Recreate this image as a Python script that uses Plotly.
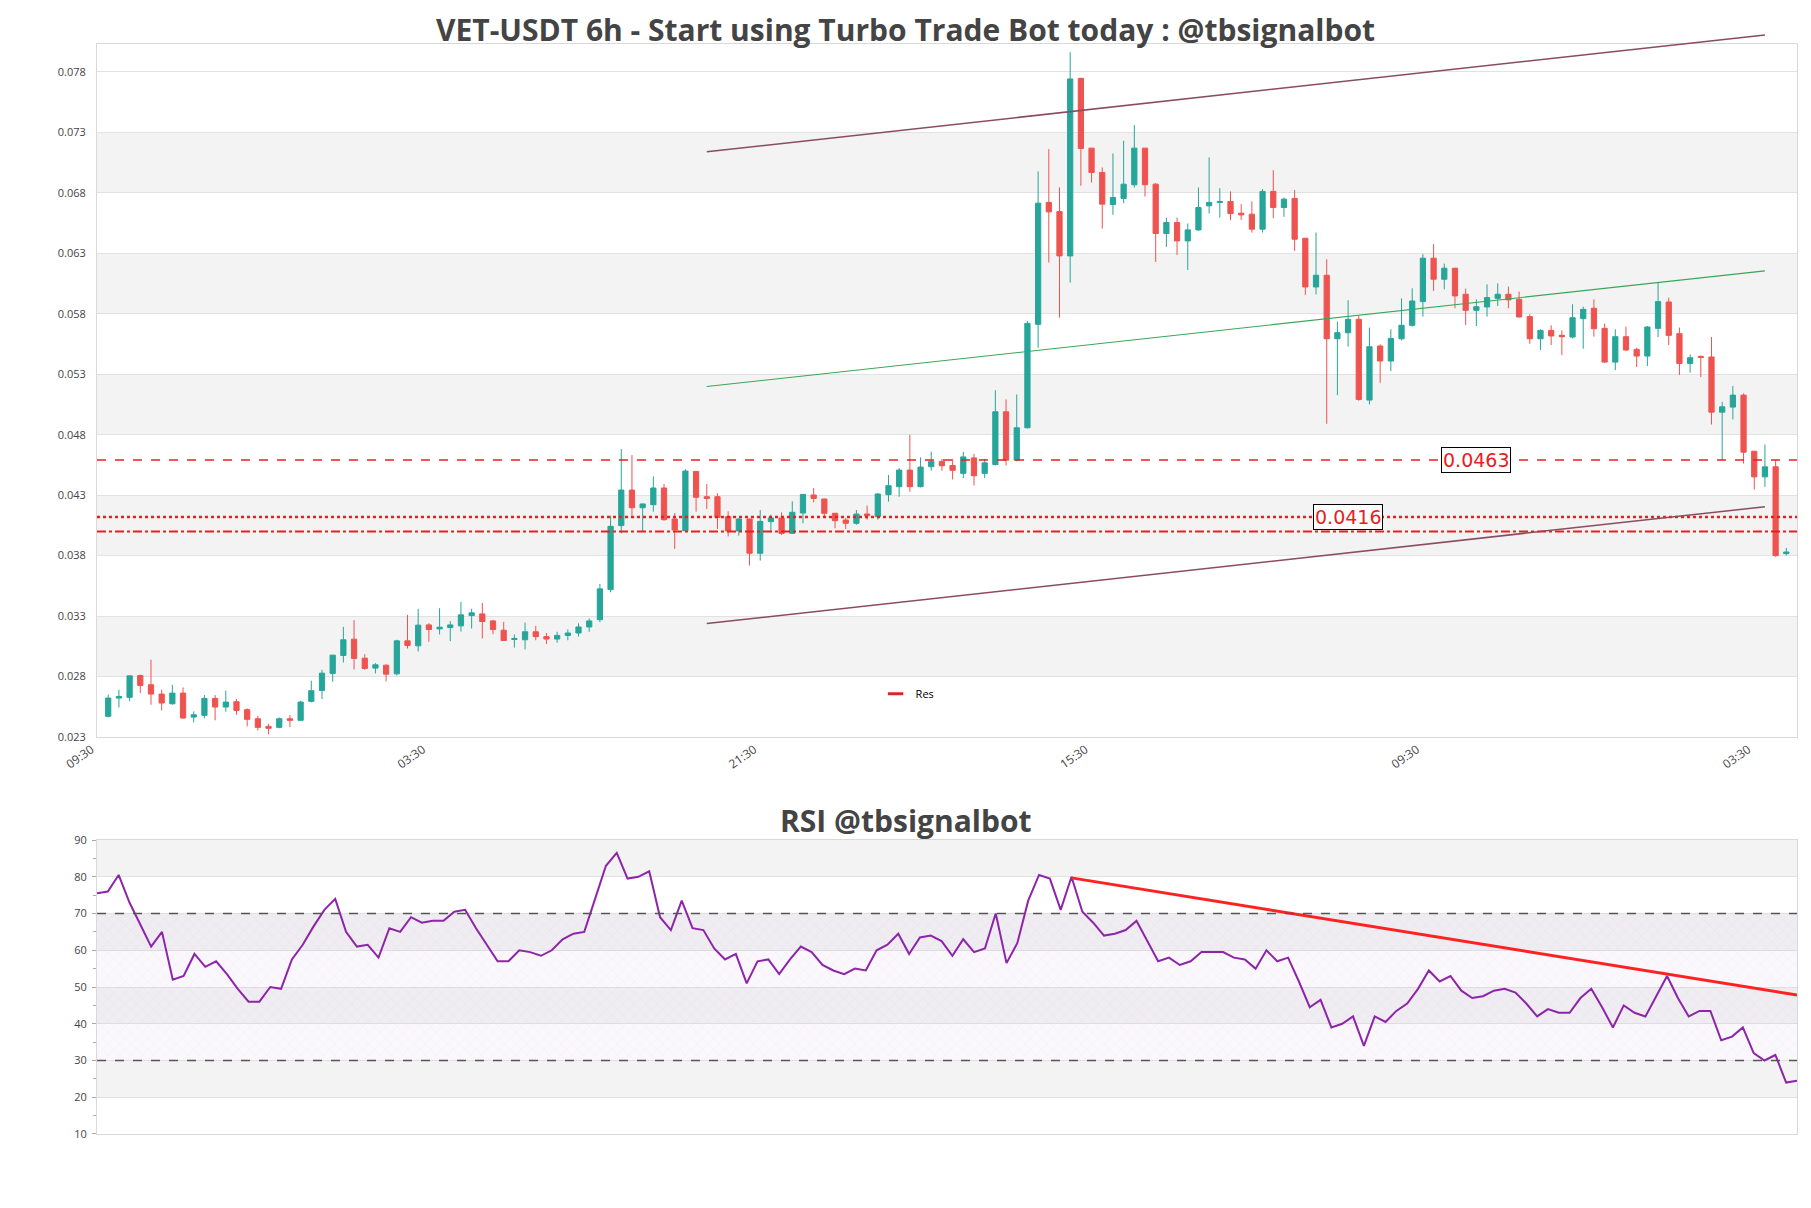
import pandas as pd
import plotly.graph_objects as go

# VET-USDT 6h candles
start = "2024-03-01 15:30"

open_ = [
    0.02511, 0.02662, 0.02668, 0.02849, 0.02772, 0.02695, 0.02615, 0.02703, 0.02505, 0.02519,
    0.02659, 0.02588, 0.02632, 0.02566, 0.02491, 0.02428, 0.02420, 0.02491, 0.02478, 0.02635,
    0.02725, 0.02866, 0.03014, 0.03149, 0.02992, 0.02910, 0.02934, 0.02863, 0.03135, 0.03094,
    0.03267, 0.03234, 0.03245, 0.03259, 0.03344, 0.03358, 0.03300, 0.03223, 0.03146, 0.03144,
    0.03210, 0.03170, 0.03150, 0.03180, 0.03200, 0.03250, 0.03310, 0.03559, 0.04088, 0.04382,
    0.04236, 0.04261, 0.04399, 0.04143, 0.04046, 0.04536, 0.04327, 0.04327, 0.04162, 0.04044,
    0.04143, 0.03859, 0.04121, 0.04151, 0.04024, 0.04192, 0.04341, 0.04308, 0.04190, 0.04134,
    0.04107, 0.04184, 0.04162, 0.04344, 0.04410, 0.04547, 0.04410, 0.04575, 0.04619, 0.04585,
    0.04520, 0.04648, 0.04520, 0.04593, 0.05029, 0.04629, 0.04897, 0.05752, 0.06760, 0.06685,
    0.06318, 0.07786, 0.07209, 0.07008, 0.06743, 0.06793, 0.06906, 0.07209, 0.06911, 0.06503,
    0.06594, 0.06442, 0.06533, 0.06732, 0.06760, 0.06768, 0.06671, 0.06663, 0.06539, 0.06851,
    0.06718, 0.06793, 0.06464, 0.06061, 0.06158, 0.05633, 0.05683, 0.05794, 0.05126, 0.05573,
    0.05449, 0.05633, 0.05744, 0.05940, 0.06299, 0.06125, 0.06216, 0.06001, 0.05868, 0.05896,
    0.05967, 0.06001, 0.05959, 0.05816, 0.05633, 0.05702, 0.05661, 0.05647, 0.05799, 0.05885,
    0.05719, 0.05440, 0.05650, 0.05545, 0.05490, 0.05719, 0.05937, 0.05675, 0.05429, 0.05487,
    0.05482, 0.05026, 0.05068, 0.05167, 0.04703, 0.04491, 0.04574, 0.03856,
]
high = [
    0.02690, 0.02731, 0.02848, 0.02855, 0.02979, 0.02731, 0.02772, 0.02750, 0.02552, 0.02687,
    0.02687, 0.02723, 0.02654, 0.02577, 0.02516, 0.02450, 0.02502, 0.02522, 0.02640, 0.02805,
    0.02896, 0.03019, 0.03251, 0.03306, 0.03025, 0.02951, 0.02940, 0.03144, 0.03350, 0.03400,
    0.03281, 0.03405, 0.03298, 0.03457, 0.03400, 0.03449, 0.03309, 0.03292, 0.03188, 0.03287,
    0.03260, 0.03200, 0.03210, 0.03230, 0.03280, 0.03320, 0.03606, 0.04170, 0.04721, 0.04671,
    0.04270, 0.04495, 0.04432, 0.04192, 0.04555, 0.04540, 0.04432, 0.04355, 0.04206, 0.04148,
    0.04145, 0.04217, 0.04178, 0.04198, 0.04289, 0.04348, 0.04399, 0.04310, 0.04192, 0.04151,
    0.04217, 0.04253, 0.04357, 0.04506, 0.04564, 0.04839, 0.04652, 0.04699, 0.04638, 0.04640,
    0.04698, 0.04681, 0.04640, 0.05208, 0.05131, 0.05172, 0.05780, 0.07016, 0.07201, 0.06884,
    0.08002, 0.07790, 0.07210, 0.07049, 0.07165, 0.07270, 0.07400, 0.07210, 0.06920, 0.06635,
    0.06635, 0.06586, 0.06884, 0.07132, 0.06878, 0.06851, 0.06746, 0.06768, 0.06870, 0.07027,
    0.06801, 0.06862, 0.06466, 0.06511, 0.06290, 0.05774, 0.05951, 0.05821, 0.05725, 0.05587,
    0.05711, 0.05967, 0.06050, 0.06332, 0.06415, 0.06254, 0.06220, 0.06047, 0.05959, 0.06083,
    0.06092, 0.06064, 0.06023, 0.05835, 0.05711, 0.05744, 0.05702, 0.05918, 0.05898, 0.05959,
    0.05758, 0.05711, 0.05733, 0.05559, 0.05738, 0.06097, 0.05973, 0.05725, 0.05504, 0.05495,
    0.05647, 0.05112, 0.05242, 0.05181, 0.04705, 0.04759, 0.04629, 0.03903,
]
low = [
    0.02502, 0.02585, 0.02635, 0.02703, 0.02607, 0.02560, 0.02607, 0.02491, 0.02461, 0.02494,
    0.02478, 0.02549, 0.02524, 0.02428, 0.02395, 0.02362, 0.02412, 0.02423, 0.02476, 0.02626,
    0.02654, 0.02797, 0.02956, 0.02899, 0.02896, 0.02866, 0.02800, 0.02849, 0.03072, 0.03047,
    0.03127, 0.03188, 0.03133, 0.03212, 0.03237, 0.03155, 0.03190, 0.03135, 0.03080, 0.03064,
    0.03140, 0.03110, 0.03120, 0.03140, 0.03170, 0.03210, 0.03290, 0.03537, 0.04024, 0.04170,
    0.04041, 0.04203, 0.04129, 0.03895, 0.04041, 0.04203, 0.04225, 0.04060, 0.03999, 0.04005,
    0.03757, 0.03799, 0.04032, 0.04011, 0.04019, 0.04107, 0.04280, 0.04151, 0.04066, 0.04060,
    0.04095, 0.04137, 0.04137, 0.04286, 0.04327, 0.04368, 0.04404, 0.04542, 0.04542, 0.04470,
    0.04480, 0.04420, 0.04480, 0.04585, 0.04585, 0.04620, 0.04891, 0.05559, 0.06263, 0.05807,
    0.06097, 0.06898, 0.06925, 0.06544, 0.06657, 0.06754, 0.06884, 0.06809, 0.06268, 0.06392,
    0.06326, 0.06202, 0.06525, 0.06668, 0.06635, 0.06613, 0.06616, 0.06511, 0.06511, 0.06630,
    0.06641, 0.06359, 0.05995, 0.06000, 0.04930, 0.05167, 0.05567, 0.05120, 0.05090, 0.05269,
    0.05366, 0.05620, 0.05733, 0.05816, 0.06028, 0.06042, 0.05885, 0.05747, 0.05738, 0.05816,
    0.05904, 0.05885, 0.05810, 0.05592, 0.05540, 0.05581, 0.05498, 0.05636, 0.05551, 0.05650,
    0.05435, 0.05374, 0.05531, 0.05399, 0.05407, 0.05647, 0.05581, 0.05333, 0.05352, 0.05316,
    0.04924, 0.04629, 0.04966, 0.04601, 0.04386, 0.04408, 0.03830, 0.03842,
]
close = [
    0.02662, 0.02676, 0.02846, 0.02767, 0.02695, 0.02621, 0.02703, 0.02497, 0.02524, 0.02659,
    0.02588, 0.02629, 0.02560, 0.02486, 0.02420, 0.02412, 0.02491, 0.02478, 0.02629, 0.02723,
    0.02868, 0.03017, 0.03144, 0.02990, 0.02907, 0.02937, 0.02860, 0.03135, 0.03097, 0.03265,
    0.03229, 0.03248, 0.03267, 0.03350, 0.03367, 0.03295, 0.03229, 0.03138, 0.03155, 0.03210,
    0.03170, 0.03150, 0.03180, 0.03200, 0.03250, 0.03300, 0.03565, 0.04082, 0.04382, 0.04236,
    0.04267, 0.04399, 0.04137, 0.04052, 0.04539, 0.04322, 0.04313, 0.04156, 0.04044, 0.04143,
    0.03859, 0.04123, 0.04151, 0.04024, 0.04198, 0.04346, 0.04313, 0.04190, 0.04129, 0.04107,
    0.04184, 0.04170, 0.04349, 0.04418, 0.04547, 0.04410, 0.04572, 0.04619, 0.04583, 0.04545,
    0.04656, 0.04500, 0.04607, 0.05029, 0.04629, 0.04897, 0.05760, 0.06754, 0.06682, 0.06318,
    0.07781, 0.07207, 0.07008, 0.06746, 0.06801, 0.06911, 0.07209, 0.06906, 0.06503, 0.06594,
    0.06442, 0.06533, 0.06718, 0.06760, 0.06768, 0.06668, 0.06657, 0.06539, 0.06851, 0.06718,
    0.06787, 0.06456, 0.06061, 0.06158, 0.05633, 0.05683, 0.05794, 0.05131, 0.05567, 0.05449,
    0.05636, 0.05744, 0.05945, 0.06299, 0.06125, 0.06216, 0.05987, 0.05868, 0.05898, 0.05973,
    0.06001, 0.05954, 0.05813, 0.05633, 0.05702, 0.05656, 0.05650, 0.05807, 0.05876, 0.05716,
    0.05440, 0.05650, 0.05540, 0.05490, 0.05730, 0.05940, 0.05661, 0.05429, 0.05476, 0.05479,
    0.05026, 0.05070, 0.05167, 0.04695, 0.04491, 0.04574, 0.03840, 0.03870,
]

rsi = [
    75.5, 76.0, 80.5, 73.0, 67.0, 61.0, 65.0, 52.0, 53.0, 59.0,
    55.5, 57.0, 53.5, 49.5, 46.0, 46.0, 50.0, 49.5, 57.5, 61.5,
    66.5, 71.0, 74.0, 65.0, 61.0, 61.5, 58.0, 66.0, 65.0, 69.0,
    67.5, 68.0, 68.0, 70.5, 71.0, 66.0, 61.5, 57.0, 57.0, 60.0,
    59.5, 58.5, 60.0, 63.0, 64.5, 65.0, 74.0, 83.0, 86.5, 79.5,
    80.0, 81.5, 69.0, 65.5, 73.5, 66.0, 65.5, 60.5, 57.5, 59.0,
    51.0, 57.0, 57.5, 53.5, 57.5, 61.0, 59.5, 56.0, 54.5, 53.5,
    55.0, 54.5, 60.0, 61.5, 64.5, 59.0, 63.5, 64.0, 62.5, 58.5,
    63.0, 59.5, 60.5, 70.0, 56.5, 62.0, 73.5, 80.5, 79.5, 71.0,
    80.0, 70.5, 67.5, 64.0, 64.5, 65.5, 68.0, 62.5, 57.0, 58.0,
    56.0, 57.0, 59.5, 59.5, 59.5, 58.0, 57.5, 55.0, 60.0, 57.0,
    58.0, 51.5, 44.5, 46.5, 39.0, 40.0, 42.0, 34.0, 42.0, 40.5,
    43.5, 45.5, 49.5, 54.5, 51.5, 53.0, 49.0, 47.0, 47.5, 49.0,
    49.5, 48.5, 45.5, 42.0, 44.0, 43.0, 43.0, 47.0, 49.5, 44.5,
    39.0, 45.0, 43.0, 42.0, 47.5, 53.0, 47.0, 42.0, 43.5, 43.5,
    35.5, 36.5, 39.0, 32.0, 30.0, 31.5, 24.0, 24.5,
]

# horizontal levels
levels = [0.0463, 0.0416, 0.0404]
level_dash = ["dash", "dot", "dashdot"]
label_levels = [0.0463, 0.0416]
label_idx = [128, 116]

# price channel: candle index at both ends, price at both ends
channel_idx = [56, 155]
channel_upper = [0.07179, 0.08145]
channel_mid = [0.05238, 0.06194]
channel_lower = [0.03278, 0.04244]

# RSI trend line and bands
rsi_trend_idx = [90, 157]
rsi_trend = [79.7, 47.8]
rsi_levels = [30, 70]

y_range = [0.0234, 0.0807]
y_step = 0.005

times = pd.date_range(start, periods=len(open_), freq="6h")
step = pd.Timedelta(hours=6)

fig = go.Figure()

fig.add_trace(go.Candlestick(
    x=times, open=open_, high=high, low=low, close=close,
    increasing=dict(line=dict(color="#26a69a", width=1), fillcolor="#26a69a"),
    decreasing=dict(line=dict(color="#ef5350", width=1), fillcolor="#ef5350"),
    whiskerwidth=0, showlegend=False, hoverinfo="skip",
))

# legend entry only
fig.add_trace(go.Scatter(
    x=[None], y=[None], mode="markers", name="Res",
    marker=dict(symbol="line-ew", size=11, line=dict(color="#d62728", width=3)),
))

# RSI hatched zone between 30 and 70
fig.add_trace(go.Scatter(
    x=[times[0], times[-1], times[-1], times[0]],
    y=[rsi_levels[0], rsi_levels[0], rsi_levels[1], rsi_levels[1]],
    xaxis="x2", yaxis="y2", mode="none", fill="toself",
    fillcolor="rgba(150,110,190,0.05)",
    fillpattern=dict(shape="x", fgcolor="rgba(175,150,205,0.5)", size=8, solidity=0.05),
    showlegend=False, hoverinfo="skip",
))
fig.add_trace(go.Scatter(
    x=times, y=rsi, xaxis="x2", yaxis="y2", mode="lines",
    line=dict(color="#8e24aa", width=2), showlegend=False,
))
fig.add_trace(go.Scatter(
    x=[times[i] for i in rsi_trend_idx], y=rsi_trend, xaxis="x2", yaxis="y2",
    mode="lines", line=dict(color="#ff2222", width=3), showlegend=False,
))


def to_dom(p):
    return (p - y_range[0]) / (y_range[1] - y_range[0])


shapes = []
# alternating bands
for k in range(1, 11, 2):
    shapes.append(dict(type="rect", xref="x domain", yref="y", x0=0, x1=1,
                       y0=y_range[0] + k * y_step, y1=y_range[0] + (k + 1) * y_step,
                       fillcolor="#f3f3f3", line_width=0, layer="below"))
for lo in [20, 40, 60, 80]:
    shapes.append(dict(type="rect", xref="x2 domain", yref="y2", x0=0, x1=1,
                       y0=lo, y1=lo + 10, fillcolor="#f3f3f3", line_width=0, layer="below"))

level_width = {"dash": 1.5, "dot": 2.5, "dashdot": 2}
for lvl, dash in zip(levels, level_dash):
    shapes.append(dict(type="line", xref="x domain", yref="y", x0=0, x1=1, y0=lvl, y1=lvl,
                       line=dict(color="#e8201c", width=level_width[dash], dash=dash)))

for ends, col, w in [(channel_upper, "#8a4c5e", 1.5), (channel_mid, "#3aa757", 1.2),
                     (channel_lower, "#8a4c5e", 1.5)]:
    shapes.append(dict(type="line", xref="x", yref="y domain",
                       x0=times[channel_idx[0]], x1=times[channel_idx[1]],
                       y0=to_dom(ends[0]), y1=to_dom(ends[1]),
                       line=dict(color=col, width=w)))

for lvl in rsi_levels:
    shapes.append(dict(type="line", xref="x2 domain", yref="y2", x0=0, x1=1, y0=lvl, y1=lvl,
                       line=dict(color="#555555", width=1.5, dash="dash")))

annotations = []
for lvl, i in zip(label_levels, label_idx):
    annotations.append(dict(x=times[i], y=lvl, xref="x", yref="y", text=f"{lvl:.4f}",
                            showarrow=False, font=dict(family="DejaVu Sans", size=19, color="#e8201c"),
                            bgcolor="white", bordercolor="black", borderwidth=1, borderpad=1))
annotations.append(dict(x=0.4756, y=0.288, xref="paper", yref="paper", text="<b>RSI @tbsignalbot</b>",
                        showarrow=False, yanchor="middle",
                        font=dict(family="Open Sans", size=30, color="#444444")))

fig.update_layout(
    width=1795, height=1192,
    paper_bgcolor="white", plot_bgcolor="white",
    margin=dict(l=89, r=6, t=36, b=66),
    title=dict(text="<b>VET-USDT 6h - Start using Turbo Trade Bot today : @tbsignalbot</b>",
               x=0.5, xanchor="center", xref="container", y=0.9815, yanchor="middle",
               font=dict(family="Open Sans", size=30, color="#444444")),
    font=dict(family="Open Sans", size=11, color="#444444"),
    showlegend=True,
    legend=dict(x=0.458, y=0.404, xanchor="left", yanchor="middle",
                bgcolor="rgba(0,0,0,0)", font=dict(size=11, color="black")),
    shapes=shapes, annotations=annotations,
    xaxis=dict(domain=[0, 1], anchor="y", type="date",
               range=[times[0] - 1.05 * step, times[-1] + step],
               tick0=times[0] - step, dtick=31 * 6 * 3600 * 1000, tickformat="%H:%M",
               tickangle=-35, ticklabelshift=-6, showgrid=False, showline=True, mirror=True,
               linecolor="#d9d9d9", rangeslider=dict(visible=False), ticks="",
               tickfont=dict(size=12, color="#444444")),
    yaxis=dict(domain=[0.3642, 1], anchor="x", range=y_range,
               tick0=y_range[0], dtick=y_step, tickformat=".3f", ticklabelstandoff=8,
               showgrid=True, gridcolor="#e2e2e2", showline=True, mirror=True,
               linecolor="#d9d9d9", zeroline=False, tickfont=dict(size=11, color="#444444")),
    xaxis2=dict(domain=[0, 1], anchor="y2", type="date", range=[times[0], times[-1]],
                showticklabels=False, showgrid=False, showline=True, mirror=True,
                linecolor="#d9d9d9"),
    yaxis2=dict(domain=[0, 0.2697], anchor="x2", range=[10, 90], tick0=10, dtick=10,
                showgrid=True, gridcolor="#e2e2e2", showline=True, mirror=True,
                linecolor="#d9d9d9", zeroline=False, ticks="outside", ticklen=4,
                tickcolor="#aaaaaa", ticklabelstandoff=3, tickfont=dict(size=11, color="#444444"),
                minor=dict(dtick=5, ticks="outside", ticklen=3, tickcolor="#aaaaaa", showgrid=False)),
)

fig.write_html("out.html")
